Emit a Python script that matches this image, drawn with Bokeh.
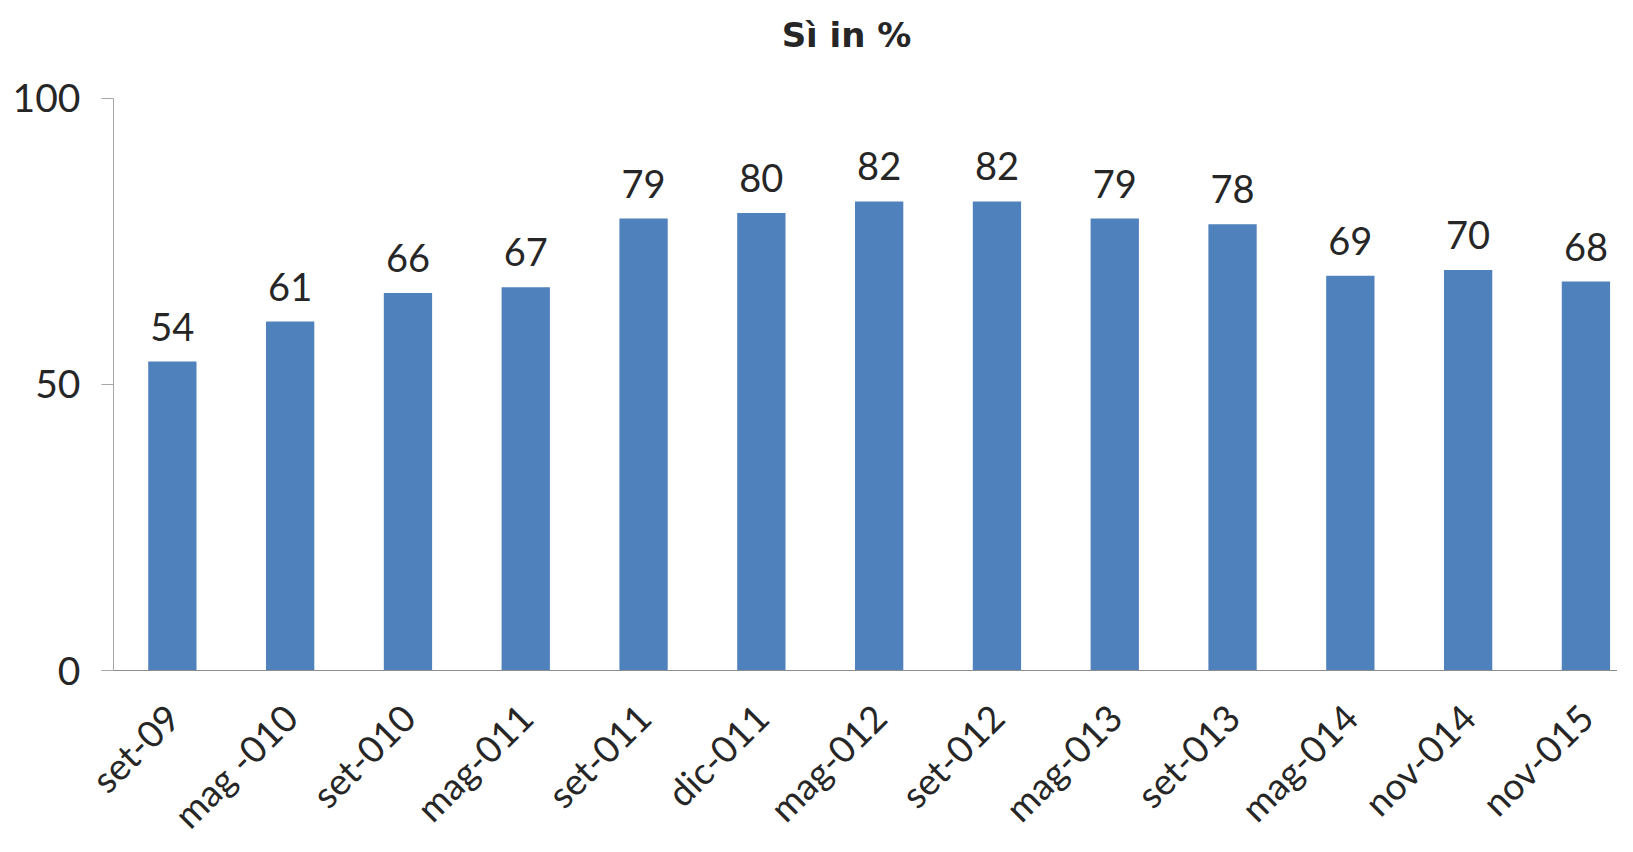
import math
from bokeh.plotting import figure
from bokeh.models import Range1d, FixedTicker, ColumnDataSource, LabelSet, Label
from bokeh.core.properties import value
from bokeh.embed import file_html
from bokeh.resources import INLINE

categories = ["set-09", "mag -010", "set-010", "mag-011", "set-011", "dic-011",
              "mag-012", "set-012", "mag-013", "set-013", "mag-014", "nov-014", "nov-015"]
values = [54, 61, 66, 67, 79, 80, 82, 82, 79, 78, 69, 70, 68]
y_ticks = [0, 50, 100]
title_text = "Sì in %"

idx = list(range(len(categories)))
src = ColumnDataSource(dict(x=idx, top=values, lbl=[str(v) for v in values]))

FONT = "Lato"
TXT = "#262626"
W, H = 1617, 836

# frame covers the whole canvas; axes are placed at fixed data locations
p = figure(width=W, height=H, output_backend="svg", toolbar_location=None,
           x_range=Range1d(-1.459, 12.268), y_range=Range1d(-29.02, 117.13),
           min_border=0)
p.outline_line_color = None
p.xgrid.visible = False
p.ygrid.visible = False

p.vbar(x="x", top="top", width=0.41, bottom=0, source=src,
       fill_color="#4F81BD", line_color=None)

p.add_layout(LabelSet(x="x", y="top", text="lbl", source=src, text_align="center",
                      text_baseline="alphabetic", y_offset=21, text_font=value(FONT),
                      text_font_size=value("38px"), text_color=value(TXT)))

p.add_layout(Label(x=846, y=H - 34, x_units="screen", y_units="screen",
                   text=title_text, text_align="center", text_baseline="middle",
                   text_font="DejaVu Sans", text_font_size="34px",
                   text_font_style="bold", text_color=TXT))

# y axis at the left edge of the category band
ya = p.yaxis[0]
ya.fixed_location = -0.5
ya.ticker = FixedTicker(ticks=y_ticks)
ya.bounds = (0, 100)
ya.axis_line_color = "#a6a6a6"
ya.major_tick_line_color = "#a6a6a6"
ya.major_tick_in = 0
ya.major_tick_out = 12
ya.minor_tick_line_color = None
ya.major_label_standoff = 21
ya.major_label_text_font = FONT
ya.major_label_text_font_size = "39px"
ya.major_label_text_color = TXT

# x axis drawn at y = 0
xa = p.xaxis[0]
xa.fixed_location = 0
xa.bounds = (-0.5, 12.268)
xa.ticker = FixedTicker(ticks=idx)
xa.major_label_overrides = {i: c for i, c in zip(idx, categories)}
xa.axis_line_color = "#8c8c8c"
xa.major_tick_line_color = None
xa.minor_tick_line_color = None
xa.major_label_orientation = math.pi / 4
xa.major_label_standoff = 34
xa.major_label_text_font = FONT
xa.major_label_text_font_size = "37px"
xa.major_label_text_color = TXT

open("out.html", "w").write(file_html(p, INLINE))
